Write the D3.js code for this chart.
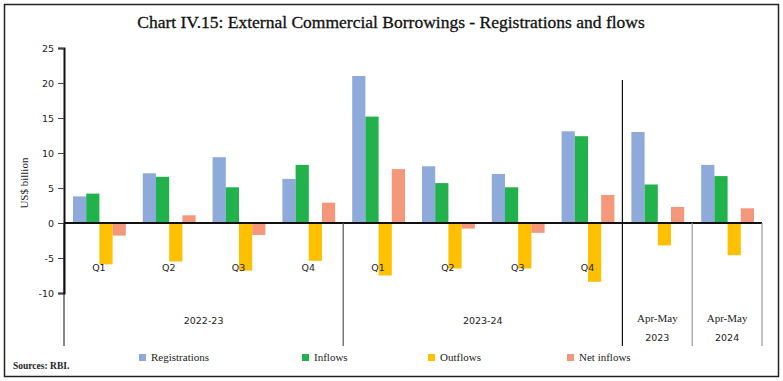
<!DOCTYPE html>
<html>
<head>
<meta charset="utf-8">
<script src="https://cdn.jsdelivr.net/npm/d3@7"></script>
<style>
  body { margin: 0; background: #fff; }
  svg { display: block; }
</style>
</head>
<body>
<div id="chart"></div>
<script>
const width = 783;
const height = 381;

const categories = ['22Q1', '22Q2', '22Q3', '22Q4', '23Q1', '23Q2', '23Q3', '23Q4', 'AM23', 'AM24'];
const quarterLabels = ['Q1', 'Q2', 'Q3', 'Q4', 'Q1', 'Q2', 'Q3', 'Q4', '', ''];
const seriesNames = ['Registrations', 'Inflows', 'Outflows', 'Net inflows'];
const registrations = [3.8, 7.1, 9.4, 6.3, 21.0, 8.1, 7.0, 13.1, 13.0, 8.3];
const inflows = [4.2, 6.6, 5.1, 8.3, 15.2, 5.7, 5.1, 12.4, 5.5, 6.7];
const outflows = [-5.9, -5.5, -6.8, -5.4, -7.5, -6.5, -6.5, -8.4, -3.2, -4.6];
const netInflows = [-1.8, 1.1, -1.7, 2.9, 7.7, -0.8, -1.4, 4.0, 2.3, 2.1];
const yTicks = [-10, -5, 0, 5, 10, 15, 20, 25];
const groups = [
  { label: ['2022-23'], from: 0, to: 3 },
  { label: ['2023-24'], from: 4, to: 7 },
  { label: ['Apr-May', '2023'], from: 8, to: 8 },
  { label: ['Apr-May', '2024'], from: 9, to: 9 }
];
const colors = ['#8eaadb', '#21b24b', '#ffc000', '#f4977a'];

const seriesValues = [registrations, inflows, outflows, netInflows];

const svg = d3.select('#chart')
  .append('svg')
  .attr('width', width)
  .attr('height', height);

// frame
svg.append('rect')
  .attr('x', 4.5).attr('y', 4.5)
  .attr('width', 774).attr('height', 372)
  .attr('fill', 'none')
  .attr('stroke', '#222')
  .attr('stroke-width', 1.5);

svg.append('text')
  .attr('x', 391).attr('y', 28)
  .attr('text-anchor', 'middle')
  .attr('font-family', 'Liberation Serif, serif')
  .attr('font-size', 17.5)
  .attr('fill', '#111')
  .attr('stroke', '#111')
  .attr('stroke-width', 0.3)
  .text('Chart IV.15: External Commercial Borrowings - Registrations and flows');

const x0 = d3.scaleBand()
  .domain(categories)
  .range([64, 762]);

const x1 = d3.scaleBand()
  .domain(seriesNames)
  .range([9, x0.bandwidth() - 8]);

const y = d3.scaleLinear()
  .domain([-10, 25])
  .range([293, 48]);

// y axis
const yAxis = d3.axisLeft(y)
  .tickValues(yTicks)
  .tickSize(6)
  .tickFormat(d => String(d));

const yg = svg.append('g')
  .attr('transform', 'translate(64,0)')
  .call(yAxis);
yg.select('.domain').attr('stroke', '#111').attr('stroke-width', 2);
yg.selectAll('.tick line').attr('stroke', '#444');
yg.selectAll('.tick text')
  .attr('font-family', 'DejaVu Sans, sans-serif')
  .attr('font-size', 9.5)
  .attr('fill', '#222')
  .attr('x', -10);

svg.append('text')
  .attr('transform', 'translate(28,' + y(5.7) + ') rotate(-90)')
  .attr('text-anchor', 'middle')
  .attr('font-family', 'Liberation Serif, serif')
  .attr('font-size', 11)
  .attr('fill', '#222')
  .text('US$ billion');

// bars
const bars = svg.append('g');
categories.forEach((c, i) => {
  bars.selectAll(null)
    .data(seriesNames.map((s, k) => ({ s, v: seriesValues[k][i], k })))
    .enter()
    .append('rect')
    .attr('x', d => x0(c) + x1(d.s))
    .attr('y', d => y(Math.max(0, d.v)))
    .attr('width', x1.bandwidth())
    .attr('height', d => Math.abs(y(d.v) - y(0)))
    .attr('fill', d => colors[d.k]);
});

// zero line
svg.append('line')
  .attr('x1', 64).attr('x2', x0.range()[1])
  .attr('y1', y(0)).attr('y2', y(0))
  .attr('stroke', '#111')
  .attr('stroke-width', 2);

// quarter labels
svg.selectAll('.qlab')
  .data(categories)
  .enter()
  .append('text')
  .attr('x', d => x0(d) + x0.bandwidth() / 2)
  .attr('y', 271)
  .attr('text-anchor', 'middle')
  .attr('font-family', 'DejaVu Sans, sans-serif')
  .attr('font-size', 9.5)
  .attr('fill', '#222')
  .text((d, i) => quarterLabels[i]);

// group dividers
const dividerX = [x0(categories[0]), x0(categories[4]), x0(categories[8]), x0(categories[9]), x0.range()[1]];
const dividerColor = ['#111', '#555', '#111', '#999', '#999'];
dividerX.forEach((dx, i) => {
  svg.append('line')
    .attr('x1', dx).attr('x2', dx)
    .attr('y1', i === 2 ? 80 : y(0)).attr('y2', 346)
    .attr('stroke', dividerColor[i])
    .attr('stroke-width', i === 0 ? 1 : 1.2);
});

// group labels
groups.forEach(g => {
  const cx = (x0(categories[g.from]) + x0(categories[g.to]) + x0.bandwidth()) / 2;
  g.label.forEach((t, j) => {
    svg.append('text')
      .attr('x', cx)
      .attr('y', g.label.length > 1 ? 322 + j * 19 : 324)
      .attr('text-anchor', 'middle')
      .attr('font-family', g.label.length > 1 && j === 0 ? 'Liberation Serif, serif' : 'DejaVu Sans, sans-serif')
      .attr('font-size', g.label.length > 1 && j === 0 ? 11 : 9.5)
      .attr('fill', '#222')
      .text(t);
  });
});

// legend
const legendX = [139, 302, 428, 567];
const legend = svg.append('g');
seriesNames.forEach((s, i) => {
  legend.append('rect')
    .attr('x', legendX[i]).attr('y', 354)
    .attr('width', 7).attr('height', 7)
    .attr('fill', colors[i]);
  legend.append('text')
    .attr('x', legendX[i] + 12).attr('y', 361)
    .attr('font-family', 'Liberation Serif, serif')
    .attr('font-size', 11)
    .attr('fill', '#222')
    .text(s);
});

svg.append('text')
  .attr('x', 13).attr('y', 369)
  .attr('font-family', 'Liberation Serif, serif')
  .attr('font-size', 9.5)
  .attr('font-weight', 'bold')
  .attr('fill', '#222')
  .text('Sources: RBI.');
</script>
</body>
</html>
